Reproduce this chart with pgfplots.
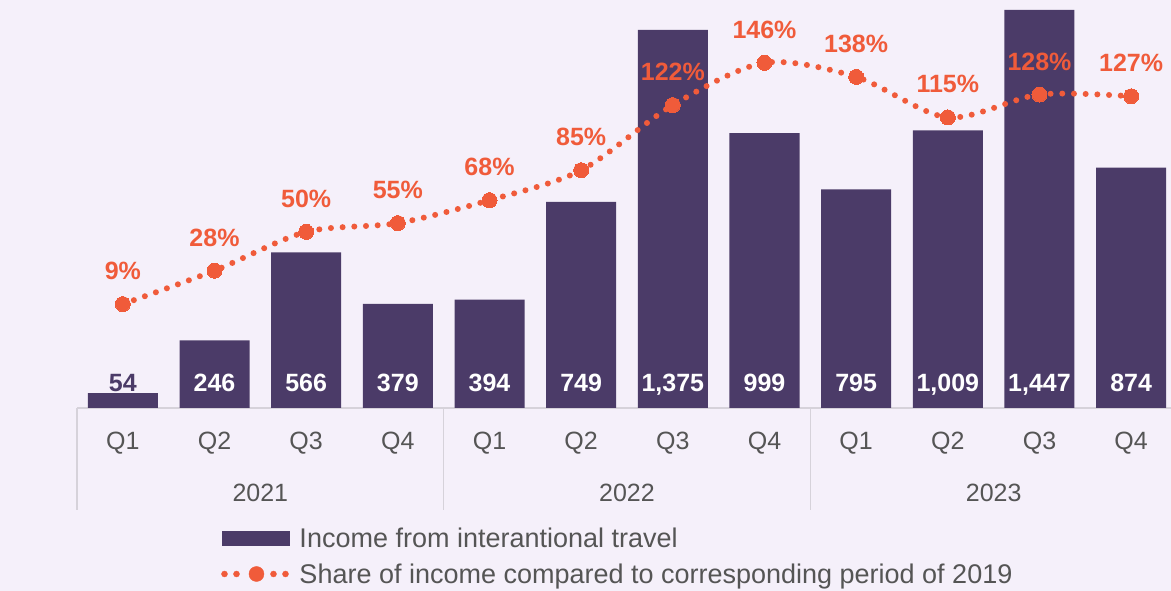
\documentclass[border=0pt]{standalone}
\usepackage{pgfplots}
\pgfplotsset{compat=1.18}
\usepackage{fontspec}
\setmainfont{Liberation Sans}
\definecolor{bg}{RGB}{245,240,250}
\definecolor{barc}{RGB}{75,59,104}
\definecolor{linec}{RGB}{240,91,58}
\definecolor{txt}{RGB}{85,85,85}
\definecolor{sepc}{RGB}{214,210,218}
\newcommand\fs{\fontsize{25}{29}\selectfont}
\newcommand\fl{\fontsize{27}{31}\selectfont}
\newcommand\fb{\bfseries\fontsize{25}{29}\selectfont}
\pgfplotsset{/pgf/number format/assume math mode=true}
\begin{document}
\begin{tikzpicture}[x=1pt,y=1pt]
\fill[bg] (0,0) rectangle (1171,591);
\path[use as bounding box] (0,0) rectangle (1171,591);
\begin{axis}[at={(77pt,183pt)}, anchor=south west,
  width=1100pt, height=398pt, scale only axis,
  xmin=-0.5, xmax=11.5, ymin=0, ymax=1447,
  axis x line*=bottom, axis y line=none,
  x axis line style={draw=sepc, line width=1.2pt, -},
  xtick={0,...,11}, xticklabels={Q1,Q2,Q3,Q4,Q1,Q2,Q3,Q4,Q1,Q2,Q3,Q4},
  major tick length=0pt,
  x tick label style={font=\fs, text=txt, anchor=center, yshift=-35pt},
  ytick=\empty,
  ylabel={Million USD},
  every axis y label/.style={at={(axis description cs:-0.050,0.377)}, rotate=90, anchor=center, font=\fontsize{23}{27}\selectfont, text=txt},
  clip=false,
  legend style={at={(axis description cs:0.131,-0.297)}, anchor=north west, draw=none, fill=none, font=\fl, text=txt, row sep=10pt, inner sep=0pt,
    /tikz/every odd column/.style={column sep=7pt}},
  legend cell align=left,
]
\addplot[ybar, bar width=70pt, fill=barc, draw=none,
  legend image code/.code={\fill[barc] (0pt,-7.5pt) rectangle (68pt,7.5pt);}]
  coordinates {(0,54)(1,246)(2,566)(3,379)(4,394)(5,749)(6,1375)(7,999)(8,795)(9,1009)(10,1447)(11,874)};
\addlegendentry{Income from interantional travel}
\addlegendimage{legend image code/.code={\path[draw=none,fill=none] (0pt,-7.5pt) rectangle (68pt,7.5pt);
  \fill[linec] (2pt,0pt) circle (3pt) (14pt,0pt) circle (3pt) (34pt,0pt) circle (7.5pt) (51pt,0pt) circle (3pt) (63pt,0pt) circle (3pt);}}
\addlegendentry{Share of income compared to corresponding period of 2019}
\addplot[forget plot, draw=none, mark=none, nodes near coords, point meta=explicit symbolic,
  nodes near coords style={text=white, font=\fb, anchor=center, text height=18pt, text depth=0pt}]
  table[meta=v] {
x y v
1 94 246
2 94 566
3 94 379
4 94 394
5 94 749
6 94 1,375
7 94 999
8 94 795
9 94 1,009
10 94 1,447
11 94 874
};
\addplot[forget plot, draw=none, mark=none, nodes near coords, point meta=explicit symbolic,
  nodes near coords style={text=barc, font=\fb, anchor=center, text height=18pt, text depth=0pt}]
  table[meta=v] {
x y v
0 94 54
};
\draw[sepc, line width=1.2pt] (axis cs:-0.5,0) -- ++(0pt,-102pt);
\draw[sepc, line width=1.2pt] (axis cs:3.5,0) -- ++(0pt,-102pt);
\draw[sepc, line width=1.2pt] (axis cs:7.5,0) -- ++(0pt,-102pt);
\node[text=txt, font=\fs] at (axis cs:1.5,0) [yshift=-85pt] {2021};
\node[text=txt, font=\fs] at (axis cs:5.5,0) [yshift=-85pt] {2022};
\node[text=txt, font=\fs] at (axis cs:9.5,0) [yshift=-85pt] {2023};
\end{axis}
\begin{axis}[at={(77pt,183pt)}, anchor=south west,
  width=1100pt, height=398pt, scale only axis,
  xmin=-0.5, xmax=11.5, ymin=-50, ymax=176, hide axis, clip=false]
\addplot[linec, smooth, line width=6pt, line cap=round, dash pattern=on 0pt off 11.7pt,
  mark=*, mark size=7.5pt, mark options={solid, line width=0pt, fill=linec, draw=linec},
  nodes near coords={\pgfmathprintnumber{\pgfplotspointmeta}\%}, point meta=y,
  nodes near coords style={text=linec, font=\fb, anchor=center, yshift=33pt}]
  coordinates {(0,9)(1,28)(2,50)(3,55)(4,68)(5,85)(6,122)(7,146)(8,138)(9,115)(10,128)(11,127)};
\end{axis}
\end{tikzpicture}
\end{document}
